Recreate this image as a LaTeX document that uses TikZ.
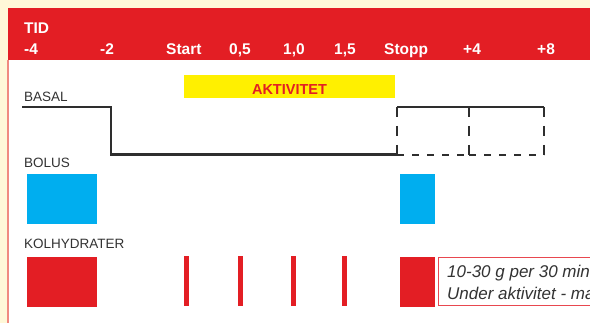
\documentclass[tikz,border=0pt]{standalone}
\usepackage{fontspec}
\setmainfont{Liberation Sans}
\definecolor{hdrred}{HTML}{E31E24}
\definecolor{cream}{HTML}{FFF8D8}
\definecolor{edge}{HTML}{F08A80}
\definecolor{bolusblue}{HTML}{00AEEF}
\definecolor{aktyellow}{HTML}{FFF000}
\definecolor{labgray}{HTML}{333333}
\definecolor{linegray}{HTML}{2E2E2E}
\definecolor{boxred}{HTML}{E8474F}
\tikzset{
  hdr/.style={anchor=base west, inner sep=0pt, text=white, font=\fontsize{15.5}{18}\selectfont\bfseries},
  lab/.style={anchor=base west, inner sep=0pt, text=labgray, font=\fontsize{13.5}{16}\selectfont},
  note/.style={anchor=base west, inner sep=0pt, text=labgray, font=\fontsize{17}{20}\selectfont\itshape},
  basal/.style={draw=linegray, line width=2.2pt},
  vdash/.style={draw=linegray, line width=2.2pt, dash pattern=on 10pt off 9pt},
  hdash/.style={draw=linegray, line width=2.2pt, dash pattern=on 6.5pt off 8.5pt},
}
\begin{document}
\begin{tikzpicture}[x=1pt,y=-1pt]
\useasboundingbox (0,0) rectangle (590,323);
\clip (0,0) rectangle (590,323);
% background
\fill[cream] (0,0) rectangle (590,323);
\fill[white] (7.5,60) rectangle (590,323);
\fill[hdrred] (7.5,8) rectangle (590,60);
\draw[edge, line width=1.5pt] (8,60) -- (8,323);
% header
\node[hdr] (tid) at (24,33.3) {TID};
\node[hdr] (tm4) at (24,55) {-4};
\node[hdr] (tm2) at (100,55) {-2};
\node[hdr] (tstart) at (166,55) {Start};
\node[hdr] (t05) at (229,55) {0,5};
\node[hdr] (t10) at (283,55) {1,0};
\node[hdr] (t15) at (334,55) {1,5};
\node[hdr] (tstopp) at (384,55) {Stopp};
\node[hdr] (tp4) at (463,55) {+4};
\node[hdr] (tp8) at (537,55) {+8};
% activity bar
\fill[aktyellow] (184,75) rectangle (395,98);
\node[anchor=base, inner sep=0pt, text=hdrred, font=\fontsize{14.5}{17}\selectfont\bfseries] (akt) at (289.5,95) {AKTIVITET};
% basal
\node[lab] (basal) at (24,102) {BASAL};
\coordinate (b0) at (22,107);
\coordinate (b1) at (111,107);
\coordinate (b2) at (111,154.5);
\coordinate (b3) at (397,154.5);
\coordinate (d1) at (397,107);
\coordinate (d2) at (469,107);
\coordinate (d3) at (544,107);
\coordinate (e1) at (397,155);
\coordinate (e2) at (469,155);
\coordinate (e3) at (544,155);
\draw[basal] (b0) -- (b1) -- (b2) -- (b3);
\draw[basal] (d1) -- (d3);
\draw[vdash] (d1) -- (e1);
\draw[vdash] (d2) -- (e2);
\draw[vdash] (d3) -- (e3);
\draw[hdash] (e1) -- (e2);
\draw[hdash] (e2) -- (e3);
% bolus
\node[lab] (bolus) at (24,168) {BOLUS};
\fill[bolusblue] (27,174) rectangle (97,224);
\fill[bolusblue] (400,174) rectangle (435,224);
% kolhydrater
\node[lab] (kh) at (24,249) {KOLHYDRATER};
\fill[hdrred] (27,257) rectangle (97,307);
\foreach \xx in {184,238,291,342} {
  \fill[hdrred] (\xx,256) rectangle ++(5,50);
}
\fill[hdrred] (400,257) rectangle (435,307);
\draw[boxred, line width=1pt] (438.5,257.5) rectangle (600,305.5);
\node[note] (n1) at (447,278) {10-30 g per 30 min};
\node[note] (n2) at (447,300) {Under aktivitet - ma};
\end{tikzpicture}
\end{document}
